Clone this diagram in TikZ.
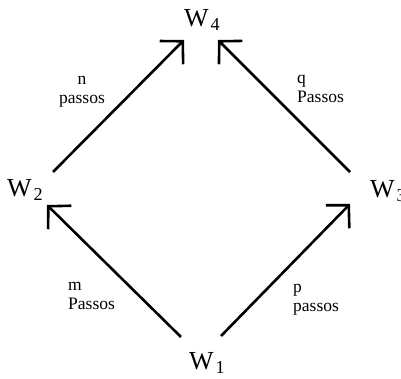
\documentclass[tikz,border=0pt]{standalone}
\usepackage{fontspec}
\setmainfont{Liberation Serif}
\usetikzlibrary{arrows.meta}

\begin{document}
\begin{tikzpicture}[x=1pt,y=1pt,
  wnode/.style={inner sep=0pt,anchor=base west,font=\fontsize{26}{26}\selectfont},
  lbl/.style={inner sep=0pt,align=left,font=\fontsize{17.5}{19}\selectfont},
  arr/.style={line width=2.6pt,-{Straight Barb[length=16pt,width=33pt]}}]
  \useasboundingbox (0,0) rectangle (401,379);
  % states
  \node[wnode] (W1) at (189,9)   {W\kern2pt\textsubscript{1}};
  \node[wnode] (W2) at (7,182)   {W\kern2pt\textsubscript{2}};
  \node[wnode] (W3) at (370,181) {W\kern2pt\textsubscript{3}};
  \node[wnode] (W4) at (184,352) {W\kern2pt\textsubscript{4}};
  % steps
  \draw[arr] ([shift={(-8,33)}]W1.base west) -- ([shift={(40,-8)}]W2.base west);
  \draw[arr] ([shift={(32,34)}]W1.base west) -- ([shift={(-20,-6)}]W3.base west);
  \draw[arr] ([shift={(46,25)}]W2.base west) -- ([shift={(0,-13)}]W4.base west);
  \draw[arr] ([shift={(-20,26)}]W3.base west) -- ([shift={(34,-13)}]W4.base west);
  % step counts
  \node[lbl,align=center] (n) at (82,287)  {n\\passos};
  \node[lbl,anchor=west]  (q) at (297,290) {q\\Passos};
  \node[lbl,anchor=west]  (m) at (68,83)   {m\\Passos};
  \node[lbl,anchor=west]  (p) at (293,79)  {p\\passos};
\end{tikzpicture}
\end{document}
